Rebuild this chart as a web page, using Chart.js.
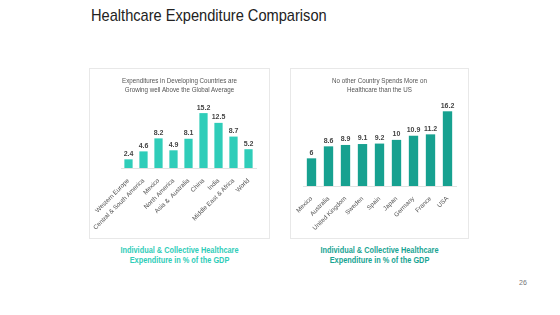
<!DOCTYPE html>
<html>
<head>
<meta charset="utf-8">
<script src="https://cdn.jsdelivr.net/npm/chart.js@4.4.0/dist/chart.umd.min.js"></script>
<style>
  body { margin: 0; background: #fff; font-family: "Liberation Sans", Arial, sans-serif; }
  #slide { position: relative; width: 560px; height: 315px; overflow: hidden; }
  .title { position: absolute; left: 91px; top: 6px; font-size: 17px; color: #222; transform: scaleX(0.86); transform-origin: left top; white-space: nowrap; }
  .panel { position: absolute; top: 68px; height: 171px; border: 1px solid #e8e8e8; box-sizing: border-box; }
  .panel canvas { position: absolute; left: -1px; top: -1px; }
  .sub { position: absolute; left: 0; right: 0; top: 8px; text-align: center; font-size: 7px; line-height: 8.5px; color: #555; transform: scaleX(0.89); white-space: nowrap; }
  .caption { position: absolute; top: 245px; text-align: center; font-size: 8.5px; line-height: 10px; font-weight: bold; transform: scaleX(0.865); white-space: nowrap; }
  .page { position: absolute; left: 519px; top: 279px; font-size: 7px; color: #777; }
</style>
</head>
<body>
<div id="slide">
  <div class="title">Healthcare Expenditure Comparison</div>

  <div class="panel" style="left:89px; width:181px;">
    <canvas id="left-chart" width="181" height="171"></canvas>
    <div class="sub">Expenditures in Developing Countries are<br>Growing well Above the Global Average</div>
  </div>
  <div class="caption" style="left:89px; width:181px; color:#2fcdb9;">Individual &amp; Collective Healthcare<br>Expenditure in % of the GDP</div>

  <div class="panel" style="left:290px; width:179px;">
    <canvas id="right-chart" width="179" height="171"></canvas>
    <div class="sub">No other Country Spends More on<br>Healthcare than the US</div>
  </div>
  <div class="caption" style="left:290px; width:179px; color:#18a493;">Individual &amp; Collective Healthcare<br>Expenditure in % of the GDP</div>

  <div class="page">26</div>
</div>

<script>
// DATA

const leftLabels = ['Western Europe', 'Central & South America', 'Mexico', 'North America', 'Asia &  Australia', 'China', 'India', 'Middle East & Africa', 'World'];
const leftValues = [2.4, 4.6, 8.2, 4.9, 8.1, 15.2, 12.5, 8.7, 5.2];

const rightLabels = ['Mexico', 'Australia', 'United Kingdom', 'Sweden', 'Spain', 'Japan', 'Germany', 'France', 'USA'];
const rightValues = [6, 8.6, 8.9, 9.1, 9.2, 10, 10.9, 11.2, 16.2];

const yMax = 18;

// value labels above each bar
const valueLabels = {
  id: 'valueLabels',
  afterDatasetsDraw(chart) {
    const ctx = chart.ctx;
    const values = chart.data.datasets[0].data;
    ctx.save();
    ctx.font = 'bold 7px "Liberation Sans", Arial, sans-serif';
    ctx.fillStyle = '#444';
    ctx.textAlign = 'center';
    ctx.textBaseline = 'bottom';
    chart.getDatasetMeta(0).data.forEach(function (bar, i) {
      ctx.fillText(values[i], bar.x, bar.y - 2);
    });
    ctx.restore();
  }
};

function makeChart(id, labels, values, color, pad, axisHeight) {
  return new Chart(document.getElementById(id), {
    type: 'bar',
    data: {
      labels: labels,
      datasets: [{
        data: values,
        backgroundColor: color,
        barPercentage: 0.55,
        categoryPercentage: 1
      }]
    },
    options: {
      responsive: false,
      animation: false,
      layout: { padding: pad },
      plugins: { legend: { display: false }, tooltip: { enabled: false } },
      scales: {
        x: {
          grid: { display: false },
          border: { color: '#e2e2e2' },
          ticks: {
            autoSkip: false,
            minRotation: 45,
            maxRotation: 45,
            padding: 1,
            color: '#555',
            font: { family: '"Liberation Sans", Arial', size: 6.3 }
          },
          afterFit: function (scale) {
            scale.height = axisHeight;
            scale.paddingLeft = 0;
            scale.paddingRight = 0;
          }
        },
        y: { display: false, min: 0, max: yMax }
      }
    },
    plugins: [valueLabels]
  });
}

makeChart('left-chart', leftLabels, leftValues, '#2fcdb9', { top: 35, left: 32, right: 14, bottom: 0 }, 71);
makeChart('right-chart', rightLabels, rightValues, '#17a190', { top: 35, left: 13, right: 13, bottom: 0 }, 53);
</script>
</body>
</html>
